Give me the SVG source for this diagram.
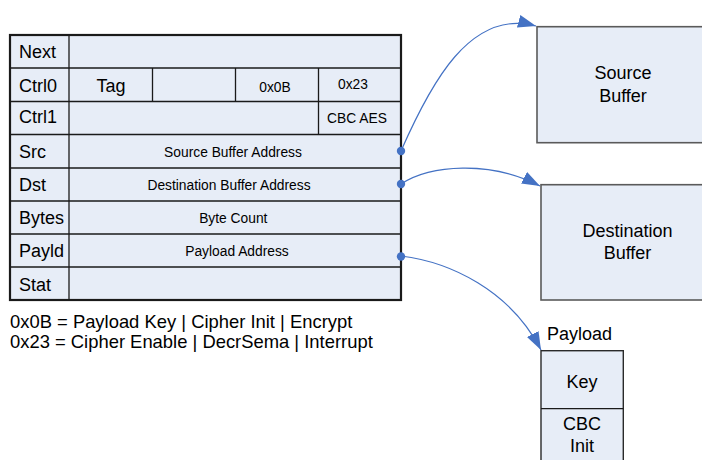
<svg xmlns="http://www.w3.org/2000/svg" width="702" height="460" viewBox="0 0 702 460">
<style>
text{font-family:"Liberation Sans",Arial,sans-serif;fill:#000}
.lg{font-size:18px}
.lgd{font-size:18.4px}
.sm{font-size:13.8px}
.c{text-anchor:middle}
.cell{fill:#E7EDF7;stroke:none}
.ln{stroke:#1a1a1a;stroke-width:1.3;fill:none}
.outer{fill:none;stroke:#1a1a1a;stroke-width:2.2}
.box{fill:#E7EDF7;stroke:#5a5a5a;stroke-width:1.6}
.pbox{fill:#E7EDF7;stroke:#2a2a2a;stroke-width:1.4}
.conn{fill:none;stroke:#4472C4;stroke-width:1.2}
.dot{fill:#4472C4}
</style>
<defs>
<marker id="arr" markerUnits="userSpaceOnUse" markerWidth="20" markerHeight="14" refX="18" refY="6.5" orient="auto">
<path d="M0,0 L18,6.5 L0,13 z" fill="#4472C4"/>
</marker>
</defs>

<g id="descriptor">
<rect class="cell" x="10" y="35" width="391" height="265"/>
<g class="ln">
<line x1="69" y1="35" x2="69" y2="300"/>
<line x1="10" y1="68" x2="401" y2="68"/>
<line x1="10" y1="101.5" x2="401" y2="101.5"/>
<line x1="10" y1="134.5" x2="401" y2="134.5"/>
<line x1="10" y1="168" x2="401" y2="168"/>
<line x1="10" y1="201" x2="401" y2="201"/>
<line x1="10" y1="234" x2="401" y2="234"/>
<line x1="10" y1="267" x2="401" y2="267"/>
<line x1="152.5" y1="68" x2="152.5" y2="101.5"/>
<line x1="235.5" y1="68" x2="235.5" y2="101.5"/>
<line x1="318.5" y1="68" x2="318.5" y2="134.5"/>
</g>
<rect class="outer" x="10" y="35" width="391" height="265"/>
<g id="row-next"><text class="lg" x="19" y="57.5">Next</text></g>
<g id="row-ctrl0">
<text class="lg" x="19" y="92">Ctrl0</text>
<text class="lg c" x="111" y="92">Tag</text>
<text class="sm c" x="275" y="91.5">0x0B</text>
<text class="sm c" x="353" y="89.3">0x23</text>
</g>
<g id="row-ctrl1">
<text class="lg" x="19" y="122.5">Ctrl1</text>
<text class="sm c" x="357" y="122.5">CBC AES</text>
</g>
<g id="row-src">
<text class="lg" x="19" y="158.3">Src</text>
<text class="sm c" x="233" y="156.7">Source Buffer Address</text>
</g>
<g id="row-dst">
<text class="lg" x="19" y="190.7">Dst</text>
<text class="sm c" x="229" y="190">Destination Buffer Address</text>
</g>
<g id="row-bytes">
<text class="lg" x="19" y="224">Bytes</text>
<text class="sm c" x="233.3" y="222.7">Byte Count</text>
</g>
<g id="row-payld">
<text class="lg" x="19" y="256.7">Payld</text>
<text class="sm c" x="237" y="256">Payload Address</text>
</g>
<g id="row-stat"><text class="lg" x="19" y="290.7">Stat</text></g>
</g>

<g id="legend">
<text class="lgd" x="10" y="327.7">0x0B = Payload Key | Cipher Init | Encrypt</text>
<text class="lgd" x="10" y="347.7">0x23 = Cipher Enable | DecrSema | Interrupt</text>
</g>

<g id="source-buffer">
<rect class="box" x="537" y="26.7" width="180" height="116"/>
<text class="lg c" x="623" y="78.5">Source</text>
<text class="lg c" x="623" y="101.7">Buffer</text>
</g>

<g id="destination-buffer">
<rect class="box" x="541" y="184.7" width="180" height="115.3"/>
<text class="lg c" x="627.5" y="236.7">Destination</text>
<text class="lg c" x="627.5" y="259.3">Buffer</text>
</g>

<g id="payload">
<text class="lg" x="547" y="339.5">Payload</text>
<rect class="pbox" x="541" y="350.7" width="82.3" height="120"/>
<line class="ln" x1="541" y1="408.7" x2="623.3" y2="408.7"/>
<text class="lg c" x="582" y="388.3">Key</text>
<text class="lg c" x="582" y="430">CBC</text>
<text class="lg c" x="582" y="451.7">Init</text>
</g>

<g id="connectors">
<path class="conn" d="M401,151 C430,85 470,8 536,26" marker-end="url(#arr)"/>
<path class="conn" d="M401,184 C430,165 490,160 540,186" marker-end="url(#arr)"/>
<path class="conn" d="M401,256 C450,262 510,290 541,350" marker-end="url(#arr)"/>
<circle class="dot" cx="401" cy="151" r="4.2"/>
<circle class="dot" cx="401" cy="184" r="4.2"/>
<circle class="dot" cx="401" cy="256.5" r="4.2"/>
</g>
</svg>
